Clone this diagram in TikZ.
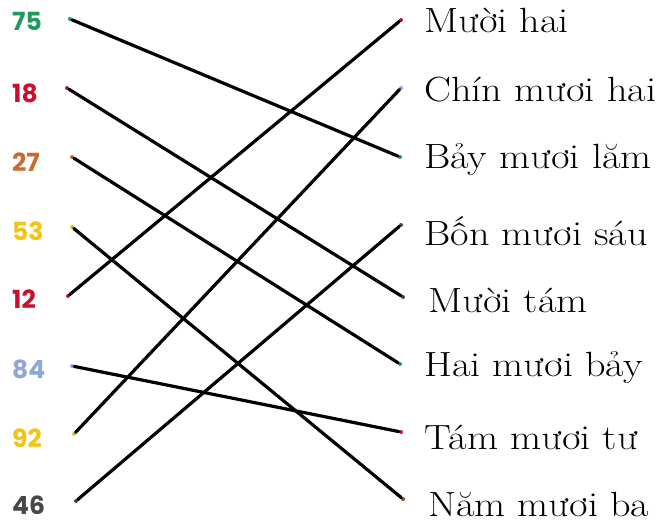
\documentclass[tikz,border=0pt]{standalone}
\usepackage{fontspec}
\usepackage{xcolor}
\usetikzlibrary{arrows.meta,positioning}
\newfontfamily\numfont{Poppins}
\newfontfamily\wordfont{lmroman17-regular}[Extension=.otf, FakeStretch=1.15]
\definecolor{numgreen}{HTML}{1E9A5C}
\definecolor{numred}{HTML}{C8102E}
\definecolor{numorange}{HTML}{CC6A2C}
\definecolor{numyellow}{HTML}{F2C413}
\definecolor{numblue}{HTML}{8FA6D6}
\definecolor{numgray}{HTML}{474747}
\definecolor{dotbrown}{HTML}{8B4A2B}

\begin{document}
\begin{tikzpicture}[
    x=1pt, y=-1pt,
    num/.style={anchor=west, inner sep=0pt, font=\numfont\bfseries\fontsize{25}{27}\selectfont},
    word/.style={anchor=west, inner sep=0pt, font=\wordfont\fontsize{35}{38}\selectfont},
    dot/.style={circle, fill=#1, inner sep=0pt, minimum size=4pt},
    link/.style={line width=3.2pt, line cap=round}
]
\useasboundingbox[fill=white] (0,0) rectangle (665,522);

% left column
\node[num, text=numgreen]  (n75) at (12,21)  {75};
\node[num, text=numred]    (n18) at (12,93)  {18};
\node[num, text=numorange] (n27) at (12,162) {27};
\node[num, text=numyellow] (n53) at (12,231) {53};
\node[num, text=numred]    (n12) at (12,299) {12};
\node[num, text=numblue]   (n84) at (12,369) {84};
\node[num, text=numyellow] (n92) at (12,438) {92};
\node[num, text=numgray]   (n46) at (12,505) {46};

\node[dot=numgreen]  (l75) at (70,19)  {};
\node[dot=numred]    (l18) at (67,88)  {};
\node[dot=numorange] (l27) at (72,157) {};
\node[dot=numyellow] (l53) at (72,227) {};
\node[dot=numred]    (l12) at (68,296) {};
\node[dot=numblue]   (l84) at (72,366) {};
\node[dot=numyellow] (l92) at (74,434) {};
\node[dot=numgray]   (l46) at (76,501) {};

% right column
\node[word] (w12) at (424,20)  {Mười hai};
\node[word] (w92) at (424,90)  {Chín mươi hai};
\node[word] (w75) at (424,160) {Bảy mươi lăm};
\node[word] (w46) at (424,231) {Bốn mươi sáu};
\node[word] (w18) at (428,300) {Mười tám};
\node[word] (w27) at (424,368) {Hai mươi bảy};
\node[word] (w84) at (424,437) {Tám mươi tư};
\node[word] (w53) at (428,504) {Năm mươi ba};

\node[dot=numred]   (r12) at (401,20)  {};
\node[dot=numblue]  (r92) at (401,88)  {};
\node[dot=numgreen] (r75) at (400,157) {};
\node[dot=numgray]  (r46) at (401,225) {};
\node[dot=numgray]  (r18) at (403,297) {};
\node[dot=numgreen] (r27) at (400,364) {};
\node[dot=numred]   (r84) at (401,432) {};
\node[dot=dotbrown] (r53) at (403,499) {};

% matching lines
\draw[link] (l75) -- (r75);
\draw[link] (l18) -- (r18);
\draw[link] (l27) -- (r27);
\draw[link] (l53) -- (r53);
\draw[link] (l12) -- (r12);
\draw[link] (l84) -- (r84);
\draw[link] (l92) -- (r92);
\draw[link] (l46) -- (r46);
\end{tikzpicture}
\end{document}
